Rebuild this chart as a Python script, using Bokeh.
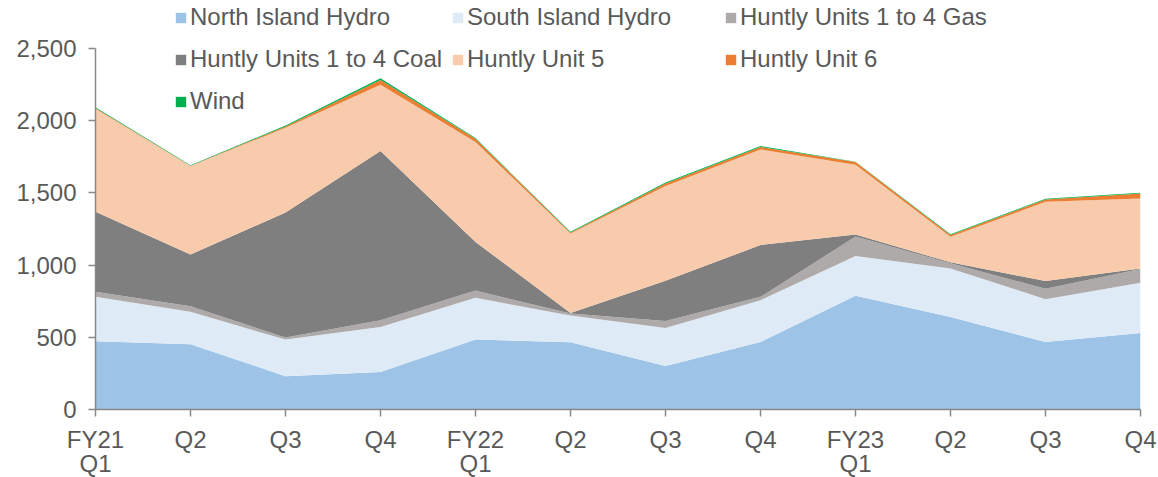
from bokeh.plotting import figure
from bokeh.models import (Range1d, FixedTicker, NumeralTickFormatter, Legend, LegendItem,
                          ColumnDataSource)
from bokeh.embed import file_html
from bokeh.resources import INLINE

quarters = ["FY21\nQ1", "Q2", "Q3", "Q4", "FY22\nQ1", "Q2", "Q3", "Q4",
            "FY23\nQ1", "Q2", "Q3", "Q4"]
north_island_hydro = [472, 451, 231, 259, 484, 466, 301, 468, 787, 641, 468, 530]
south_island_hydro = [308, 225, 253, 313, 289, 184, 264, 289, 276, 336, 296, 347]
huntly_1_4_gas = [35, 39, 14, 46, 51, 14, 48, 23, 134, 35, 72, 95]
huntly_1_4_coal = [554, 359, 866, 1172, 336, 5, 278, 359, 14, 7, 53, 5]
huntly_unit_5 = [713, 612, 587, 459, 692, 550, 657, 662, 484, 177, 549, 484]
huntly_unit_6 = [6, 2, 9, 33, 23, 7, 16, 16, 19, 12, 16, 34]
wind = [5, 3, 7, 11, 4, 5, 7, 7, 2, 5, 5, 5]

names = ["North Island Hydro", "South Island Hydro", "Huntly Units 1 to 4 Gas",
         "Huntly Units 1 to 4 Coal", "Huntly Unit 5", "Huntly Unit 6", "Wind"]
colors = ["#9DC3E6", "#DEEBF7", "#AEAAAA", "#7F7F7F", "#F8CBAD", "#ED7D31", "#00B050"]
keys = ["nih", "sih", "gas", "coal", "u5", "u6", "wind"]

x = list(range(len(quarters)))
src = ColumnDataSource(dict(x=x, nih=north_island_hydro, sih=south_island_hydro,
                            gas=huntly_1_4_gas, coal=huntly_1_4_coal, u5=huntly_unit_5,
                            u6=huntly_unit_6, wind=wind))

FONT = "Liberation Sans"
TXT = "#595959"
AX = "#898989"
FS = "24px"

p = figure(frame_width=1045, frame_height=407, output_backend="svg", toolbar_location=None,
           x_range=Range1d(0, len(quarters) - 1), y_range=Range1d(0, 2818),
           min_border_left=95, min_border_right=18, min_border_top=2, min_border_bottom=60)
p.outline_line_color = None
p.xgrid.visible = False
p.ygrid.visible = False

renderers = p.varea_stack(stackers=keys, x="x", color=colors, source=src)

p.yaxis.ticker = FixedTicker(ticks=[0, 500, 1000, 1500, 2000, 2500])
p.yaxis.formatter = NumeralTickFormatter(format="0,0")
p.yaxis.bounds = (0, 2500)
p.xaxis.ticker = FixedTicker(ticks=x)
p.xaxis.major_label_overrides = {i: q for i, q in enumerate(quarters)}

for ax in (p.xaxis[0], p.yaxis[0]):
    ax.axis_line_color = AX
    ax.axis_line_width = 1.5
    ax.major_tick_line_color = AX
    ax.major_tick_line_width = 1.5
    ax.major_tick_in = 0
    ax.major_tick_out = 7
    ax.minor_tick_line_color = None
    ax.major_label_text_font = FONT
    ax.major_label_text_font_size = FS
    ax.major_label_text_color = TXT
    ax.major_label_text_line_height = 0.92
p.yaxis.major_label_standoff = 12
p.xaxis.major_label_standoff = 9

cols = [[0, 3, 6], [1, 4], [2, 5]]
xs = [79, 356, 629]
LH = 30
SP = 12
for col, lx in zip(cols, xs):
    items = [LegendItem(label=names[i], renderers=[renderers[i]]) for i in col]
    n = len(col)
    h = n * LH + (n - 1) * SP
    leg = Legend(items=items, location=(lx, 407 - h), orientation="vertical",
                 glyph_width=13, glyph_height=13, label_height=LH, label_standoff=3,
                 spacing=SP, padding=0, margin=0,
                 label_text_font=FONT, label_text_font_size=FS, label_text_color=TXT,
                 border_line_color=None, background_fill_alpha=0)
    p.add_layout(leg, "center")

open("out.html", "w").write(file_html(p, INLINE))
